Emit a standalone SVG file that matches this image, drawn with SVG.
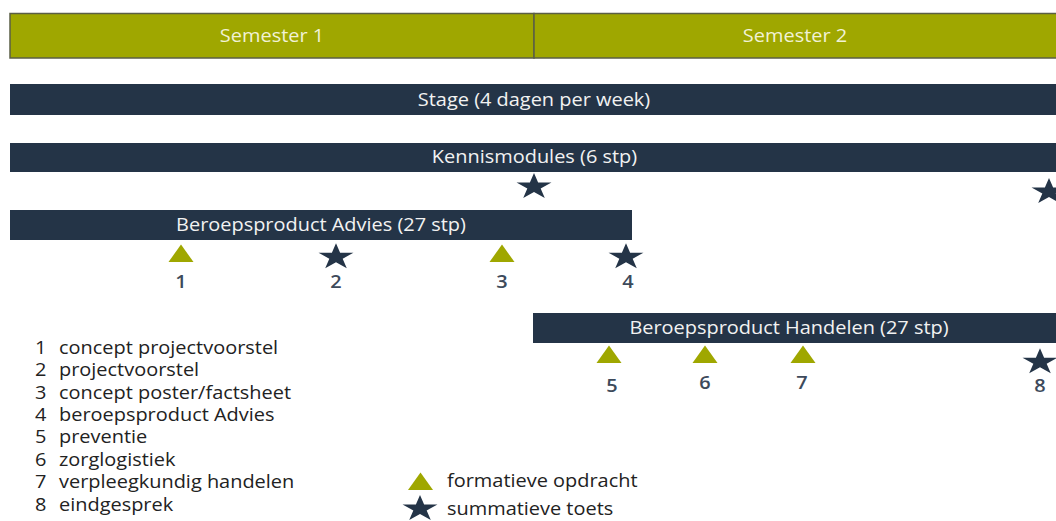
<svg xmlns="http://www.w3.org/2000/svg" width="1056" height="521" viewBox="0 0 1056 521">
  <style>
    text { font-family: "Open Sans", "Liberation Sans", sans-serif; font-size: 17.5px; }
    .bar { fill: #243447; }
    .sem { fill: #9fa700; stroke: #5b5f45; stroke-width: 1.5; }
    .lt { fill: #f2f2f2; text-anchor: middle; }
    .st { fill: #f1f2d6; text-anchor: middle; }
    .num { fill: #3d4a5b; text-anchor: middle; font-weight: 600; }
    .leg { fill: #222222; }
    .tri { fill: #9fa700; }
    .star { fill: #243447; }
  </style>
  <defs>
    <path id="starShape" d="M0,-13.8 L4.12,-4.26 L17.46,-4.26 L6.67,1.63 L10.79,11.16 L0,5.27 L-10.79,11.16 L-6.67,1.63 L-17.46,-4.26 L-4.12,-4.26 Z"/>
    <path id="triShape" d="M-12.5,0 L12.5,0 L0,-17.5 Z"/>
  </defs>
  <rect width="1056" height="521" fill="#ffffff"/>

  <g id="semesters">
    <g id="semester1">
      <rect class="sem" x="10" y="13.5" width="524" height="44.5"/>
      <text class="st" transform="translate(272,42) scale(1.14,1)">Semester 1</text>
    </g>
    <g id="semester2">
      <rect class="sem" x="534" y="13.5" width="530" height="44.5"/>
      <text class="st" transform="translate(795,42) scale(1.14,1)">Semester 2</text>
    </g>
  </g>

  <g id="stage">
    <rect class="bar" x="10" y="84" width="1056" height="31"/>
    <text class="lt" transform="translate(534,106) scale(1.14,1)">Stage (4 dagen per week)</text>
  </g>

  <g id="kennismodules">
    <rect class="bar" x="10" y="143" width="1056" height="29"/>
    <text class="lt" transform="translate(534.5,163) scale(1.14,1)">Kennismodules (6 stp)</text>
    <use href="#starShape" class="star" x="534" y="186.8"/>
    <use href="#starShape" class="star" x="1049" y="191.8"/>
  </g>

  <g id="advies">
    <rect class="bar" x="10" y="210" width="622" height="30"/>
    <text class="lt" transform="translate(321,231) scale(1.14,1)">Beroepsproduct Advies (27 stp)</text>
    <g id="m1">
      <use href="#triShape" class="tri" x="181" y="262"/>
      <text class="num" transform="translate(181,288) scale(1.14,1)">1</text>
    </g>
    <g id="m2">
      <use href="#starShape" class="star" x="336" y="257"/>
      <text class="num" transform="translate(336,288) scale(1.14,1)">2</text>
    </g>
    <g id="m3">
      <use href="#triShape" class="tri" x="502" y="262"/>
      <text class="num" transform="translate(502,288) scale(1.14,1)">3</text>
    </g>
    <g id="m4">
      <use href="#starShape" class="star" x="626" y="257"/>
      <text class="num" transform="translate(628,288) scale(1.14,1)">4</text>
    </g>
  </g>

  <g id="handelen">
    <rect class="bar" x="533" y="313" width="530" height="30"/>
    <text class="lt" transform="translate(789,334) scale(1.14,1)">Beroepsproduct Handelen (27 stp)</text>
    <g id="m5">
      <use href="#triShape" class="tri" x="609" y="363"/>
      <text class="num" transform="translate(612,392) scale(1.14,1)">5</text>
    </g>
    <g id="m6">
      <use href="#triShape" class="tri" x="705" y="363"/>
      <text class="num" transform="translate(705,389) scale(1.14,1)">6</text>
    </g>
    <g id="m7">
      <use href="#triShape" class="tri" x="803" y="363"/>
      <text class="num" transform="translate(802,389) scale(1.14,1)">7</text>
    </g>
    <g id="m8">
      <use href="#starShape" class="star" x="1040" y="362"/>
      <text class="num" transform="translate(1040,392) scale(1.14,1)">8</text>
    </g>
  </g>

  <g id="connectors"></g>

  <g id="legend-list">
    <text class="leg" transform="translate(35,354) scale(1.14,1)">1</text>
    <text class="leg" transform="translate(59,354) scale(1.14,1)">concept projectvoorstel</text>
    <text class="leg" transform="translate(35,376.4) scale(1.14,1)">2</text>
    <text class="leg" transform="translate(59,376.4) scale(1.14,1)">projectvoorstel</text>
    <text class="leg" transform="translate(35,398.7) scale(1.14,1)">3</text>
    <text class="leg" transform="translate(59,398.7) scale(1.14,1)">concept poster/factsheet</text>
    <text class="leg" transform="translate(35,421.1) scale(1.14,1)">4</text>
    <text class="leg" transform="translate(59,421.1) scale(1.14,1)">beroepsproduct Advies</text>
    <text class="leg" transform="translate(35,443.4) scale(1.14,1)">5</text>
    <text class="leg" transform="translate(59,443.4) scale(1.14,1)">preventie</text>
    <text class="leg" transform="translate(35,465.8) scale(1.14,1)">6</text>
    <text class="leg" transform="translate(59,465.8) scale(1.14,1)">zorglogistiek</text>
    <text class="leg" transform="translate(35,488.1) scale(1.14,1)">7</text>
    <text class="leg" transform="translate(59,488.1) scale(1.14,1)">verpleegkundig handelen</text>
    <text class="leg" transform="translate(35,510.5) scale(1.14,1)">8</text>
    <text class="leg" transform="translate(59,510.5) scale(1.14,1)">eindgesprek</text>
  </g>

  <g id="legend-symbols">
    <use href="#triShape" class="tri" x="420.5" y="490"/>
    <text class="leg" transform="translate(447,487) scale(1.14,1)">formatieve opdracht</text>
    <use href="#starShape" class="star" x="420" y="508.8"/>
    <text class="leg" transform="translate(447,515) scale(1.14,1)">summatieve toets</text>
  </g>
</svg>
